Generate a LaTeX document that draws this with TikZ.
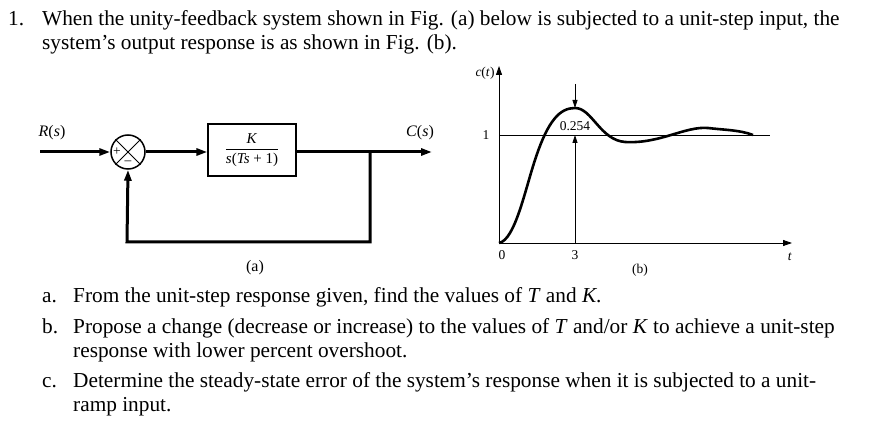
\documentclass[tikz,border=0pt]{standalone}
\usepackage{amsmath}
\usepackage{fontspec}
\setmainfont{Liberation Serif}
\usetikzlibrary{arrows.meta}
\begin{document}
\begin{tikzpicture}[x=1pt,y=-1pt,
  txt/.style={anchor=base west,inner sep=0,font=\fontsize{21.3}{24}\selectfont},
  lbl/.style={inner sep=0,font=\fontsize{16}{18}\selectfont},
  sm/.style={inner sep=0,font=\fontsize{13.5}{15}\selectfont},
  sig/.style={line width=3pt},
  arr/.style={-{Triangle[length=11pt,width=7pt]}},
  thin/.style={line width=0.8pt}]
\useasboundingbox (0,0) rectangle (878,438);
% text
\node[txt] (n1) at (8,26) {1.};
\node[txt] (l1) at (42,26) {When the unity-feedback system shown in Fig. (a) below is subjected to a unit-step input, the};
\node[txt] (l2) at (42,50) {system's output response is as shown in Fig. (b).};
\node[txt] (ia) at (42,303) {a.};
\node[txt] (ta) at (73,303) {From the unit-step response given, find the values of \textit{T} and \textit{K}.};
\node[txt] (ib) at (42,333) {b.};
\node[txt] (tb) at (73,333) {Propose a change (decrease or increase) to the values of \textit{T} and/or \textit{K} to achieve a unit-step};
\node[txt] (tb2) at (73,357) {response with lower percent overshoot.};
\node[txt] (ic) at (42,387) {c.};
\node[txt] (tc) at (73,387) {Determine the steady-state error of the system's response when it is subjected to a unit-};
\node[txt] (tc2) at (73,411) {ramp input.};
% block diagram
\coordinate (in) at (40,152);
\node[circle,draw,line width=1.5pt,minimum size=34pt,inner sep=0] (sum) at (128,152) {};
\draw[thin] (sum.north west) -- (sum.south east) (sum.north east) -- (sum.south west);
\node[sm] at (117,152) {+};
\node[sm] at (128,163) {\textendash};
\node[draw,line width=1.2pt,minimum width=88pt,minimum height=52pt,inner sep=0] (G) at (252,150)
  {\fontsize{15}{17}\selectfont$\dfrac{\text{\textit{K}}}{\text{\textit{s}(\textit{Ts} + 1)}}$};
\coordinate (out) at (432,152);
\coordinate (br) at (370,152);
\coordinate (bl) at (370,242);
\coordinate (bll) at (127,242);
\draw[sig,arr] (in) -- (sum.west);
\draw[sig,arr] (sum.east) -- (G.west |- sum.east);
\draw[sig,arr] (G.east |- out) -- (out);
\draw[sig,arr] (br) -- (bl) -- (bll) -- (sum.south);
\node[lbl] (R) at (52,133) {\textit{R}(\textit{s})};
\node[lbl] (C) at (420,133) {\textit{C}(\textit{s})};
\node[lbl] (a) at (255,268) {(a)};
% graph
\coordinate (O) at (499,243);
\coordinate (yt) at (499,66);
\coordinate (xt) at (792,243);
\draw[thin,-{Triangle[length=9pt,width=6pt]}] (O) -- (yt);
\draw[thin,-{Triangle[length=9pt,width=6pt]}] (O) -- (xt);
\coordinate (one0) at (499,135);
\coordinate (one1) at (770,135);
\draw[thin] (one0) -- (one1);
\coordinate (p3) at (575,243);
\coordinate (p1) at (575,135);
\coordinate (pk) at (575,108);
\coordinate (pt) at (575,84);
\draw[thin,-{Triangle[length=8pt,width=5pt]}] (p3) -- (p1);
\draw[thin,-{Triangle[length=8pt,width=5pt]}] (pt) -- (pk);
\draw[line width=2.6pt] (O) .. controls (515,240) and (525,190) .. (535,160)
  .. controls (548,120) and (560,108) .. (575,108)
  .. controls (592,108) and (600,140) .. (625,142)
  .. controls (660,144) and (685,126) .. (708,128)
  .. controls (725,130) and (740,130) .. (753,135);
\node[sm] (ct) at (485,73) {\textit{c}(\textit{t})};
\node[sm] (l1b) at (486,135) {1};
\node[sm] (v) at (575,126) {0.254};
\node[sm] (z) at (502,255) {0};
\node[sm] (th) at (575,255) {3};
\node[sm] (tt) at (790,257) {\textit{t}};
\node[sm] (b) at (640,270) {(b)};
\end{tikzpicture}
\end{document}
